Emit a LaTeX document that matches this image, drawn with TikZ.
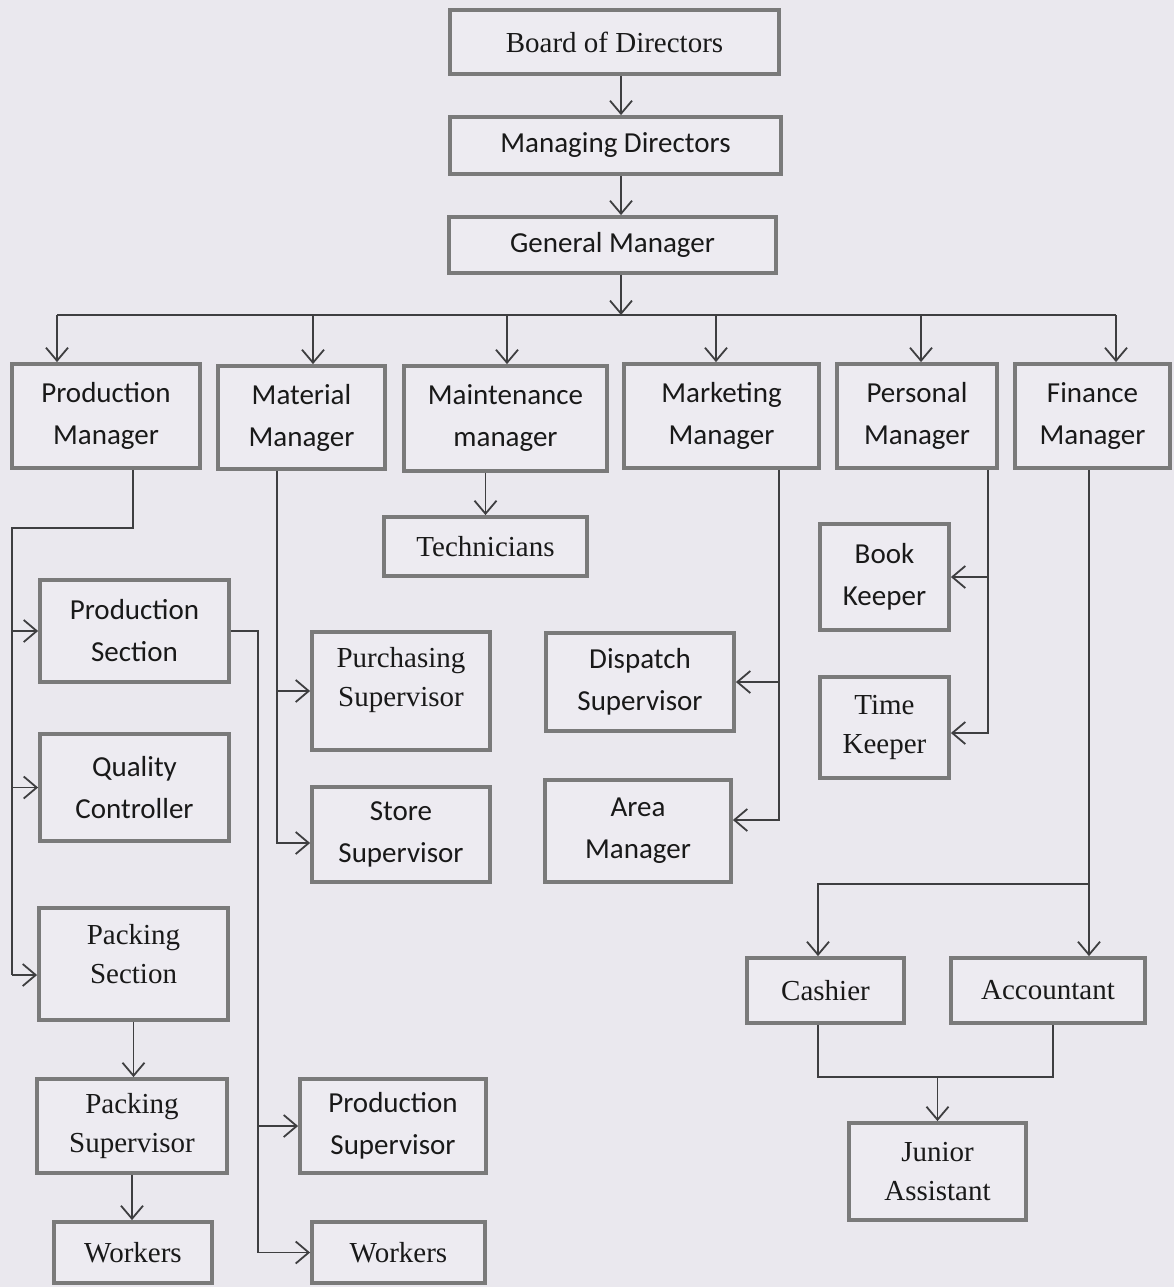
\documentclass[tikz,border=0pt]{standalone}
\usepackage{fontspec}
\setmainfont{Liberation Serif}
\newfontfamily\calib{Carlito}
\usetikzlibrary{arrows.meta}
\definecolor{bgc}{RGB}{234,232,238}
\definecolor{boxc}{RGB}{237,235,241}
\definecolor{bordc}{RGB}{122,122,122}
\definecolor{linec}{RGB}{62,62,64}
\definecolor{textc}{RGB}{25,25,25}
\newcommand\orgbox[7]{\node[#1, minimum width={(#5-#3-4)*1pt}, minimum height={(#6-#4-4)*1pt}] (#2) at ({(#3+#5)/2},{(#4+#6)/2}) {#7};}
\tikzset{
  orgb/.style={draw=bordc, line width=3.8pt, fill=boxc, align=center, inner sep=0pt, text=textc},
  sbox/.style={orgb, font=\calib\fontsize{29}{42}\selectfont},
  rbox/.style={orgb, font=\fontsize{29}{39}\selectfont},
  conn/.style={draw=linec, line width=1.8pt},
  arr/.style={conn, -{Straight Barb[length=13pt,width=22pt,line width=1.8pt]}}
}
\begin{document}
\begin{tikzpicture}[x=1pt,y=-1pt]
\fill[bgc] (0,0) rectangle (1174,1287);
\useasboundingbox (0,0) rectangle (1174,1287);
% top
\orgbox{rbox}{bod}{448}{8}{781}{76}{Board of Directors}
\orgbox{sbox}{md}{448}{115}{783}{176}{Managing Directors}
\orgbox{sbox}{gm}{447}{215}{778}{275}{General Manager}
% managers
\orgbox{sbox}{pm}{10}{362}{202}{470}{Production\\Manager}
\orgbox{sbox}{mm}{216}{364}{387}{471}{Material\\Manager}
\orgbox{sbox}{mtm}{402}{364}{609}{473}{Maintenance\\manager}
\orgbox{sbox}{mkm}{622}{362}{821}{470}{Marketing\\Manager}
\orgbox{sbox}{perm}{835}{362}{999}{470}{Personal\\Manager}
\orgbox{sbox}{fm}{1013}{362}{1172}{470}{Finance\\Manager}
% lower
\orgbox{rbox}{tech}{382}{515}{589}{578}{Technicians}
\orgbox{sbox}{ps}{38}{578}{231}{684}{Production\\Section}
\orgbox{sbox}{qc}{38}{732}{231}{843}{Quality\\Controller}
\orgbox{rbox, text depth=20pt}{pks}{37}{906}{230}{1022}{Packing\\Section}
\orgbox{rbox}{pksup}{35}{1077}{229}{1175}{Packing\\Supervisor}
\orgbox{rbox}{wk1}{52}{1220}{214}{1285}{Workers}
\orgbox{rbox, text depth=28pt}{pusup}{310}{630}{492}{752}{Purchasing\\Supervisor}
\orgbox{sbox}{ssup}{310}{785}{492}{884}{Store\\Supervisor}
\orgbox{sbox}{prsup}{298}{1077}{488}{1175}{Production\\Supervisor}
\orgbox{rbox}{wk2}{310}{1220}{487}{1285}{Workers}
\orgbox{sbox}{ds}{544}{631}{736}{733}{Dispatch\\Supervisor}
\orgbox{sbox}{am}{543}{778}{733}{884}{Area\\Manager}
\orgbox{sbox}{bk}{818}{522}{951}{632}{Book\\Keeper}
\orgbox{rbox}{tk}{818}{675}{951}{780}{Time\\Keeper}
\orgbox{rbox}{cash}{745}{956}{906}{1025}{Cashier}
\orgbox{rbox}{acc}{949}{956}{1147}{1025}{Accountant}
\orgbox{rbox}{ja}{847}{1121}{1028}{1222}{Junior\\Assistant}
% top chain
\coordinate (xg) at (621,0);
\draw[arr] (bod.south -| xg) -- (md.north -| xg);
\draw[arr] (md.south -| xg) -- (gm.north -| xg);
\coordinate (busL) at (57,315);
\coordinate (busR) at (1116,315);
\draw[arr] (gm.south -| xg) -- (xg |- busL);
\draw[conn] (busL) -- (busR);
\coordinate (x2) at (313,0);
\coordinate (x3) at (507,0);
\coordinate (x4) at (716,0);
\coordinate (x5) at (921,0);
\draw[arr] (busL) -- (busL |- pm.north);
\draw[arr] (x2 |- busL) -- (x2 |- mm.north);
\draw[arr] (x3 |- busL) -- (x3 |- mtm.north);
\draw[arr] (x4 |- busL) -- (x4 |- mkm.north);
\draw[arr] (x5 |- busL) -- (x5 |- perm.north);
\draw[arr] (busR) -- (busR |- fm.north);
% production manager
\coordinate (pmA) at (133,528);
\coordinate (pmB) at (12,528);
\coordinate (pmC) at (12,975);
\draw[conn] (pm.south -| pmA) -- (pmA) -- (pmB) -- (pmC);
\draw[arr] (pmB |- ps.west) -- (ps.west);
\draw[arr] (pmB |- qc.west) -- (qc.west);
\draw[arr] (pmC) -- (pmC -| pks.west);
\draw[arr] (pks.south) -- (pks.south |- pksup.north);
\draw[arr] (pksup.south) -- (pksup.south |- wk1.north);
% production section
\coordinate (psR) at (258,631);
\draw[arr] (ps.east |- psR) -- (psR) -- (psR |- wk2.west) -- (wk2.west);
\draw[arr] (psR |- prsup.west) -- (prsup.west);
% material manager
\coordinate (mmB) at (277,843);
\draw[arr] (mm.south -| mmB) -- (mmB) -- (mmB -| ssup.west);
\draw[arr] (mmB |- pusup.west) -- (pusup.west);
% maintenance
\draw[arr] (tech.north |- mtm.south) -- (tech.north);
% marketing
\coordinate (mkB) at (779,820);
\draw[arr] (mkm.south -| mkB) -- (mkB) -- (mkB -| am.east);
\draw[arr] (mkB |- ds.east) -- (ds.east);
% personal
\coordinate (peB) at (988,733);
\draw[arr] (perm.south -| peB) -- (peB) -- (peB -| tk.east);
\draw[arr] (peB |- bk.east) -- (bk.east);
% finance
\coordinate (fX) at (1089,884);
\coordinate (fC) at (818,884);
\draw[arr] (fm.south -| fX) -- (fX |- acc.north);
\draw[arr] (fX) -- (fC) -- (fC |- cash.north);
% junior assistant
\coordinate (jL) at (818,1077);
\coordinate (jR) at (1053,1077);
\draw[conn] (cash.south -| jL) -- (jL) -- (jR) -- (acc.south -| jR);
\draw[arr] (ja.north |- jL) -- (ja.north);
\end{tikzpicture}
\end{document}
